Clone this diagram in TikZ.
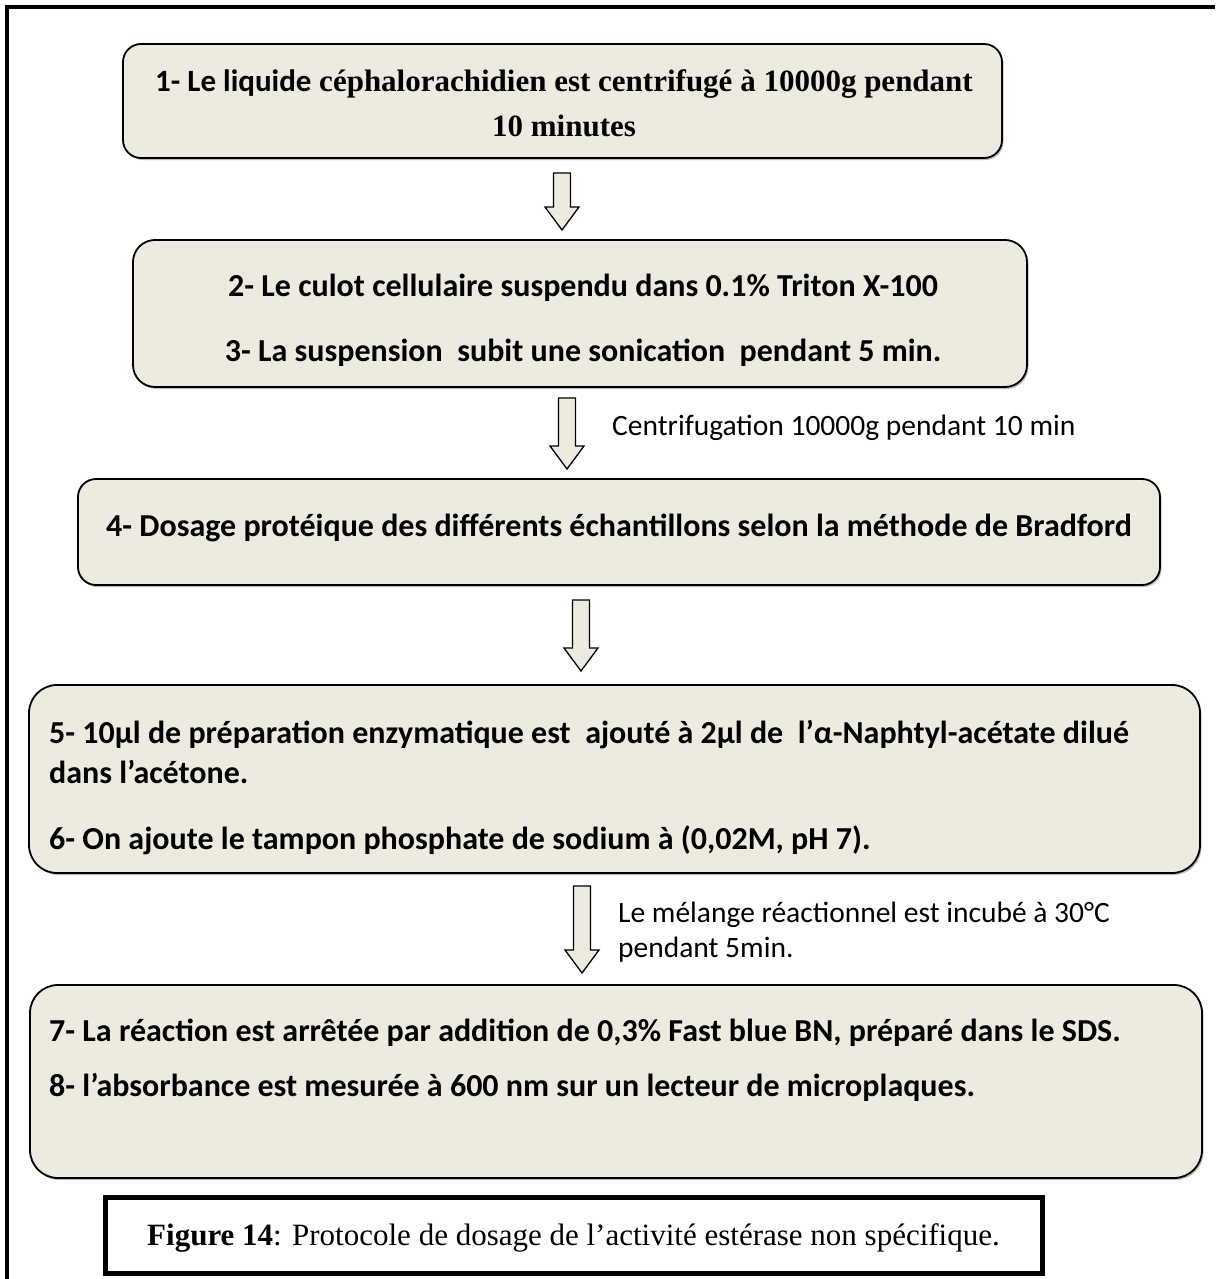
\documentclass[tikz,border=0pt]{standalone}
\usepackage{fontspec}
\setmainfont{Liberation Serif}
\newfontfamily\calib{Carlito}
\usetikzlibrary{shadows}
\definecolor{boxfill}{HTML}{EDEAE0}

\tikzset{
  stepbox/.style={draw=black, line width=1.8pt, fill=boxfill, inner sep=0pt,
    drop shadow={shadow xshift=1.5pt, shadow yshift=-2pt, fill=black!45, opacity=.6}},
  boldtext/.style={inner sep=0pt, font=\calib\bfseries\fontsize{32}{38}\selectfont},
  serifbold/.style={inner sep=0pt, font=\bfseries\fontsize{31}{37}\selectfont},
  notetext/.style={inner sep=0pt, anchor=base west, font=\calib\fontsize{29.5}{35}\selectfont},
  arrowline/.style={draw=black, line width=1.3pt, fill=boxfill, line join=miter},
  pics/downarrow/.style={code={
    \draw[arrowline] (-8.5,0) -- (8.5,0) -- (8.5,#1-23) -- (17,#1-23) -- (0,#1)
      -- (-17,#1-23) -- (-8.5,#1-23) -- cycle;}}
}

\begin{document}
\begin{tikzpicture}[x=1pt,y=-1pt]
\useasboundingbox (0,0) rectangle (1215,1279);

% page frame (top and left rules)
\draw[line width=4pt] (7,1279) -- (7,7) -- (1215,7);

% step boxes
\node[stepbox, rounded corners=18pt, minimum width=879pt, minimum height=114pt] (b1) at (562.5,101) {};
\node[stepbox, rounded corners=22pt, minimum width=894pt, minimum height=147pt] (b2) at (580,313.5) {};
\node[stepbox, rounded corners=18pt, minimum width=1082pt, minimum height=106pt] (b3) at (619,532) {};
\node[stepbox, rounded corners=28pt, minimum width=1171pt, minimum height=188pt] (b4) at (614.5,779) {};
\node[stepbox, rounded corners=28pt, minimum width=1172pt, minimum height=193pt] (b5) at (616,1081.5) {};

% texts of the steps
\node[serifbold, anchor=base] (t1a) at (564,92)
  {{\calib 1- Le liquide} céphalorachidien est centrifugé à 10000g pendant};
\node[serifbold, anchor=base] (t1b) at (564,136) {10 minutes};

\node[boldtext, anchor=base] (t2a) at (583,296) {2- Le culot cellulaire suspendu dans 0.1\% Triton X-100};
\node[boldtext, anchor=base] (t2b) at (583,361) {3- La suspension~ subit une sonication~ pendant 5 min.};

\node[boldtext, anchor=base] (t3) at (619,536) {4- Dosage protéique des différents échantillons selon la méthode de Bradford};

\node[boldtext, anchor=base west] (t4a) at (49,743) {5- 10µl de préparation enzymatique est~ ajouté à 2µl de~ l’α-Naphtyl-acétate dilué};
\node[boldtext, anchor=base west] (t4b) at (49,783) {dans l’acétone.};
\node[boldtext, anchor=base west] (t4c) at (49,849) {6- On ajoute le tampon phosphate de sodium à (0,02M, pH 7).};

\node[boldtext, anchor=base west] (t5a) at (49,1041) {7- La réaction est arrêtée par addition de 0,3\% Fast blue BN, préparé dans le SDS.};
\node[boldtext, anchor=base west] (t5b) at (49,1096) {8- l’absorbance est mesurée à 600 nm sur un lecteur de microplaques.};

% arrows between the steps
\coordinate (a1) at (562,173);
\coordinate (a2) at (567,398);
\coordinate (a3) at (581,600);
\coordinate (a4) at (582,886);
\pic at (a1) {downarrow=57};
\pic at (a2) {downarrow=71};
\pic at (a3) {downarrow=71};
\pic at (a4) {downarrow=87};

% notes beside the arrows
\node[notetext] (n2) at (612,435) {Centrifugation 10000g pendant 10 min};
\node[notetext] (n4a) at (618,922) {Le mélange réactionnel est incubé à 30°C};
\node[notetext] (n4b) at (618,957) {pendant 5min.};

% caption
\node[draw=black, line width=5pt, minimum width=937pt, minimum height=76pt, inner sep=0pt] (cap) at (573.5,1235) {};
\node[inner sep=0pt, anchor=base, font=\fontsize{31}{37}\selectfont] (captext) at (573.5,1245)
  {\textbf{Figure 14}: Protocole de dosage de l’activité estérase non spécifique.};
\end{tikzpicture}
\end{document}
